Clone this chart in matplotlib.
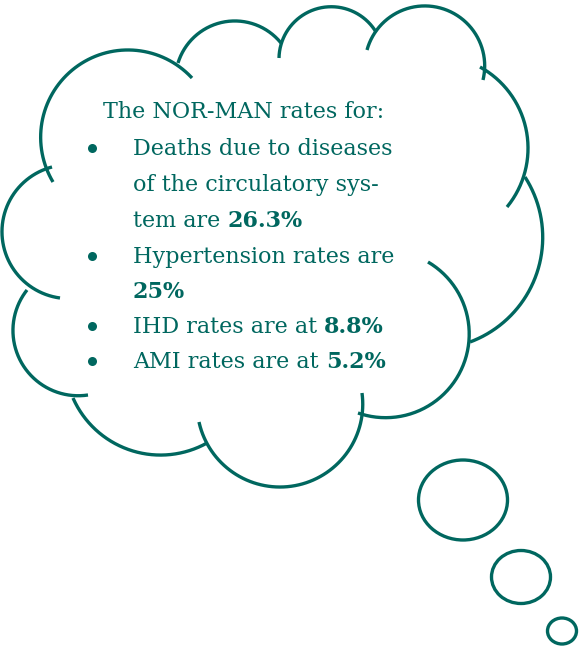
import numpy as np
import matplotlib
matplotlib.use("Agg")
import matplotlib.pyplot as plt
from matplotlib.patches import Ellipse

# ---- text content ----
title_line = "The NOR-MAN rates for:"
bullet_lines = [
    [[("Deaths due to diseases", False)],
     [("of the circulatory sys-", False)],
     [("tem are ", False), ("26.3%", True)]],
    [[("Hypertension rates are", False)],
     [("25%", True)]],
    [[("IHD rates are at ", False), ("8.8%", True)]],
    [[("AMI rates are at ", False), ("5.2%", True)]],
]

COLOR = "#00675F"
FONT = "DejaVu Serif"
FS = 16

# ---- cloud outline: each lobe given as (start, through, end) in pixel coords ----
lobes = [
    ((53, 182), (130, 50), (192, 78)),
    ((178, 63), (237, 21), (281, 43)),
    ((279, 58), (326, 7), (376, 32)),
    ((367, 50), (422, 6), (483, 80)),
    ((480, 67), (528, 150), (507, 207)),
    ((525, 177), (542, 250), (470, 342)),
    ((428, 262), (469, 340), (358, 413)),
    ((362, 393), (278, 487), (199, 422)),
    ((207, 443), (157, 455), (73, 398)),
    ((88, 395), (13, 333), (27, 290)),
    ((60, 298), (2, 230), (52, 167)),
]
bubbles = [((463, 500), 89, 80), ((521, 577), 59, 53), ((562, 631), 29, 26)]

fig = plt.figure(figsize=(5.79, 6.5), dpi=100)
ax = fig.add_axes([0, 0, 1, 1])
ax.set_xlim(0, 579)
ax.set_ylim(650, 0)
ax.axis("off")

LW = 2.4


def arc3(p1, p2, p3):
    (x1, y1), (x2, y2), (x3, y3) = p1, p2, p3
    d = 2 * (x1 * (y2 - y3) + x2 * (y3 - y1) + x3 * (y1 - y2))
    ux = ((x1**2 + y1**2) * (y2 - y3) + (x2**2 + y2**2) * (y3 - y1) + (x3**2 + y3**2) * (y1 - y2)) / d
    uy = ((x1**2 + y1**2) * (x3 - x2) + (x2**2 + y2**2) * (x1 - x3) + (x3**2 + y3**2) * (x2 - x1)) / d
    r = np.hypot(x1 - ux, y1 - uy)
    a1 = np.arctan2(y1 - uy, x1 - ux)
    a2 = np.arctan2(y2 - uy, x2 - ux)
    a3 = np.arctan2(y3 - uy, x3 - ux)
    span = (a3 - a1) % (2 * np.pi)
    off = (a2 - a1) % (2 * np.pi)
    if off <= span:
        t = np.linspace(a1, a1 + span, 200)
    else:
        t = np.linspace(a1, a1 - (2 * np.pi - span), 200)
    return ux + r * np.cos(t), uy + r * np.sin(t)


for p1, p2, p3 in lobes:
    xs, ys = arc3(p1, p2, p3)
    ax.plot(xs, ys, color=COLOR, lw=LW, solid_capstyle="butt")

for (cx, cy), w, h in bubbles:
    ax.add_patch(Ellipse((cx, cy), w, h, fill=False, edgecolor=COLOR, lw=LW))

fig.canvas.draw()
renderer = fig.canvas.get_renderer()


def draw_parts(x, y, parts):
    for s, bold in parts:
        t = ax.text(x, y, s, fontsize=FS, family=FONT, color=COLOR,
                    fontweight="bold" if bold else "normal", va="baseline", ha="left")
        bb = t.get_window_extent(renderer=renderer)
        x += bb.width  # 1 data unit == 1 pixel
    return x


baselines = [118, 155, 191, 227, 263, 298, 333, 368]
draw_parts(103, baselines[0], [(title_line, False)])
i = 1
for item in bullet_lines:
    ax.plot([92], [baselines[i] - 7], marker="o", ms=6.5, color=COLOR, mec="none")
    for line in item:
        draw_parts(133, baselines[i], line)
        i += 1

fig.savefig("out.png", dpi=100)
